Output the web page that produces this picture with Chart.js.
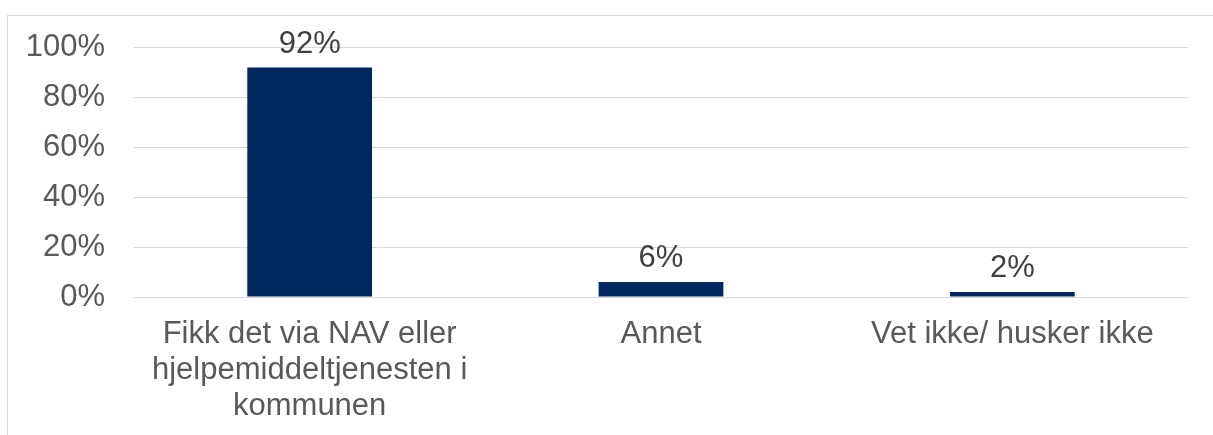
<!DOCTYPE html>
<html>
<head>
<meta charset="utf-8">
<script src="https://cdn.jsdelivr.net/npm/chart.js@4/dist/chart.umd.min.js"></script>
<style>
  html, body { margin: 0; padding: 0; background: #fff; overflow: hidden; }
  #wrap { position: relative; width: 1213px; height: 435px; }
  #frame { position: absolute; left: 7px; top: 15px; width: 1400px; height: 600px;
           border-left: 1px solid #d9d9d9; border-top: 1px solid #d9d9d9; box-sizing: border-box; }
  canvas { position: absolute; left: 0; top: 0; }
</style>
</head>
<body>
<div id="wrap">
  <div id="frame"></div>
  <canvas id="c" width="1213" height="435"></canvas>
</div>
<script>
const categories = [
  ["Fikk det via NAV eller", "hjelpemiddeltjenesten i", "kommunen"],
  ["Annet"],
  ["Vet ikke/ husker ikke"]
];
const values = [92, 6, 2];
const tickValues = [0, 20, 40, 60, 80, 100];

const FONT = "'Liberation Sans', Arial, sans-serif";

const dataLabels = {
  id: 'dataLabels',
  afterDatasetsDraw(chart) {
    const ctx = chart.ctx;
    const meta = chart.getDatasetMeta(0);
    ctx.save();
    ctx.font = "31px " + FONT;
    ctx.fillStyle = '#404040';
    ctx.textAlign = 'center';
    ctx.textBaseline = 'bottom';
    meta.data.forEach((bar, i) => {
      ctx.fillText(values[i] + '%', bar.x, bar.y - 8);
    });
    ctx.restore();
  }
};

new Chart(document.getElementById('c'), {
  type: 'bar',
  data: {
    labels: categories,
    datasets: [{
      data: values,
      backgroundColor: '#00285f',
      borderWidth: 0,
      barPercentage: 0.71,
      categoryPercentage: 0.5
    }]
  },
  options: {
    responsive: false,
    animation: false,
    events: [],
    layout: { padding: { top: 46, right: 25, left: 0, bottom: 0 } },
    plugins: { legend: { display: false }, tooltip: { enabled: false } },
    scales: {
      x: {
        grid: { display: false, drawTicks: false },
        border: { display: false },
        ticks: {
          color: '#595959',
          font: { family: FONT, size: 31, lineHeight: 1.17 },
          padding: 19,
          maxRotation: 0,
          autoSkip: false
        },
        afterFit(scale) { scale.height = 138; }
      },
      y: {
        min: 0, max: 100,
        afterBuildTicks(scale) { scale.ticks = tickValues.map(v => ({ value: v })); },
        grid: { color: '#d9d9d9', lineWidth: 1, drawTicks: false },
        border: { display: false },
        ticks: {
          color: '#595959',
          font: { family: FONT, size: 31 },
          padding: 29,
          callback: v => v + '%'
        },
        afterFit(scale) { scale.width = 134; }
      }
    }
  },
  plugins: [dataLabels]
});
</script>
</body>
</html>
